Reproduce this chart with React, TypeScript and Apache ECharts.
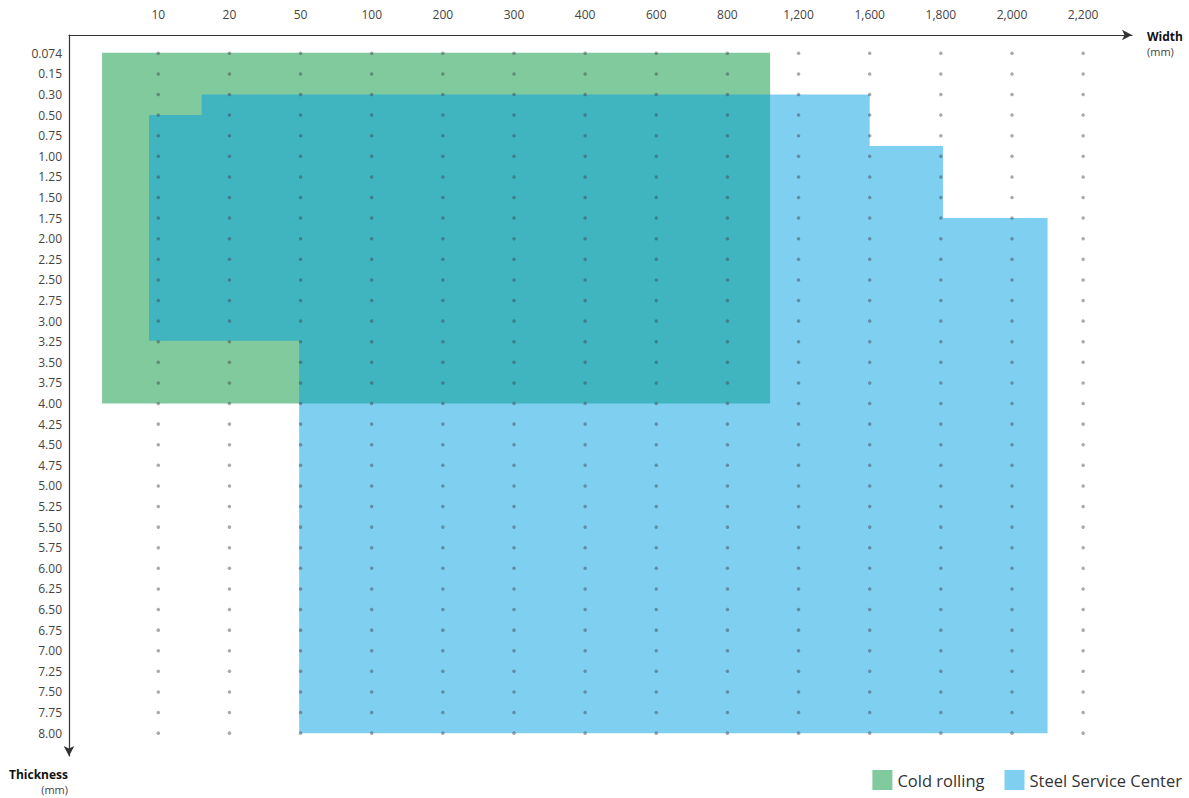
import React, { useEffect, useRef } from "react";
import * as echarts from "echarts";

const widths = ["10", "20", "50", "100", "200", "300", "400", "600", "800", "1,200", "1,600", "1,800", "2,000", "2,200"];
const thicknesses = [
  "0.074", "0.15", "0.30", "0.50", "0.75", "1.00", "1.25", "1.50", "1.75", "2.00", "2.25", "2.50", "2.75", "3.00",
  "3.25", "3.50", "3.75", "4.00", "4.25", "4.50", "4.75", "5.00", "5.25", "5.50", "5.75", "6.00", "6.25", "6.50",
  "6.75", "7.00", "7.25", "7.50", "7.75", "8.00",
];

// polygon vertices in [width index, thickness index] units
const coldRolling: number[][] = [
  [-0.79, -0.03], [8.6, -0.03], [8.6, 17], [-0.79, 17],
];
const steelServiceCenter: number[][] = [
  [0.61, 2], [10, 2], [10, 4.5], [11.03, 4.5], [11.03, 8], [12.5, 8], [12.5, 33],
  [1.98, 33], [1.98, 13.95], [-0.13, 13.95], [-0.13, 3], [0.61, 3],
];

const seriesNames = ["Cold rolling", "Steel Service Center"];
const GREEN = "#80ca9e";
const BLUE = "rgba(0,160,225,0.5)";
const FONT = "'Open Sans', 'Noto Sans', sans-serif";

function polygonSeries(name: string, pts: number[][], color: string, z: number) {
  return {
    name,
    type: "custom",
    z,
    data: [0],
    itemStyle: { color },
    renderItem: (_params: any, api: any) => ({
      type: "polygon",
      shape: { points: pts.map((p) => api.coord(p)) },
      style: { fill: color },
    }),
  };
}

export default function App() {
  const ref = useRef<HTMLDivElement>(null);
  useEffect(() => {
    document.body.style.margin = "0";
    const chart = echarts.init(ref.current!, null, { renderer: "svg" });
    const dots: number[][] = [];
    widths.forEach((_, i) => thicknesses.forEach((_, j) => dots.push([i, j])));
    chart.setOption({
      animation: false,
      textStyle: { fontFamily: FONT },
      grid: { left: 69, top: 35, right: 57, bottom: 42 },
      xAxis: {
        type: "value",
        position: "top",
        min: -1.255,
        max: 13.687,
        axisLine: {
          show: true,
          onZero: false,
          symbol: ["none", "arrow"],
          symbolSize: [8, 10],
          lineStyle: { color: "#333", width: 1.2 },
        },
        axisTick: { show: false },
        splitLine: { show: false },
        axisLabel: {
          customValues: widths.map((_, i) => i),
          formatter: (v: number) => widths[Math.round(v)] ?? "",
          color: "#444",
          fontSize: 12,
          margin: 15,
          fontFamily: FONT,
        },
      },
      yAxis: {
        type: "value",
        inverse: true,
        min: -0.888,
        max: 34.11,
        axisLine: {
          show: true,
          onZero: false,
          symbol: ["arrow", "none"],
          symbolSize: [8, 10],
          lineStyle: { color: "#333", width: 1.2 },
        },
        axisTick: { show: false },
        splitLine: { show: false },
        axisLabel: {
          customValues: thicknesses.map((_, i) => i),
          formatter: (v: number) => thicknesses[Math.round(v)] ?? "",
          color: "#444",
          fontSize: 12,
          margin: 7,
          fontFamily: FONT,
        },
      },
      legend: {
        right: 2,
        bottom: 3,
        itemWidth: 20,
        itemHeight: 20,
        itemGap: 20,
        icon: "rect",
        data: seriesNames,
        textStyle: { fontSize: 16.5, color: "#333", fontFamily: FONT },
      },
      graphic: [
        { type: "text", x: 1147, y: 36, style: { text: "Width", font: `bold 12px ${FONT}`, fill: "#111", textVerticalAlign: "middle" } },
        { type: "text", x: 1147, y: 51, style: { text: "(mm)", font: `11px ${FONT}`, fill: "#444", textVerticalAlign: "middle" } },
        { type: "text", x: 68, y: 774, style: { text: "Thickness", font: `bold 12px ${FONT}`, fill: "#111", textAlign: "right", textVerticalAlign: "middle" } },
        { type: "text", x: 68, y: 789, style: { text: "(mm)", font: `11px ${FONT}`, fill: "#444", textAlign: "right", textVerticalAlign: "middle" } },
      ],
      series: [
        polygonSeries(seriesNames[0], coldRolling, GREEN, 1),
        polygonSeries(seriesNames[1], steelServiceCenter, BLUE, 2),
        {
          type: "scatter",
          z: 5,
          symbolSize: 3.5,
          silent: true,
          itemStyle: { color: "rgba(60,60,70,0.55)" },
          data: dots,
        },
      ],
    });
    return () => chart.dispose();
  }, []);
  return <div ref={ref} style={{ width: 1189, height: 798 }} />;
}
